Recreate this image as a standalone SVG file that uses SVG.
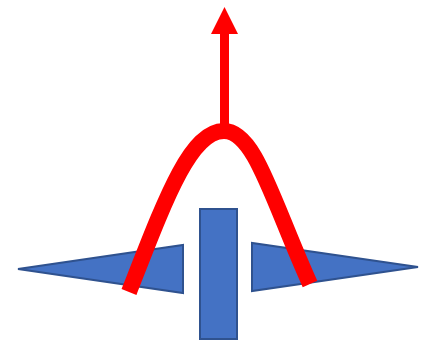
<svg xmlns="http://www.w3.org/2000/svg" width="427" height="341" viewBox="0 0 427 341">
<defs>
<style>
.blue{fill:#4472C4;stroke:#2F528F;stroke-width:2;stroke-linejoin:miter}
.red{fill:none;stroke:#FF0000}
</style>
</defs>
<rect width="427" height="341" fill="#fff"/>
<g id="left-wedge"><polygon class="blue" points="18,269 183,245 183,293"/></g>
<g id="right-wedge"><polygon class="blue" points="418,267 252,243 252,291"/></g>
<g id="post"><rect class="blue" x="200" y="209" width="37" height="130"/></g>
<g id="connectors">
<path class="red" stroke-width="16" stroke-linecap="butt" d="M129,292 C165,200 190,131 224,131 C255,131 272,200 310,284"/>
<line class="red" stroke-width="9" x1="224.5" y1="128" x2="224.5" y2="33"/>
<polygon fill="#FF0000" points="224.5,7 238,34 211,34"/>
</g>
</svg>
